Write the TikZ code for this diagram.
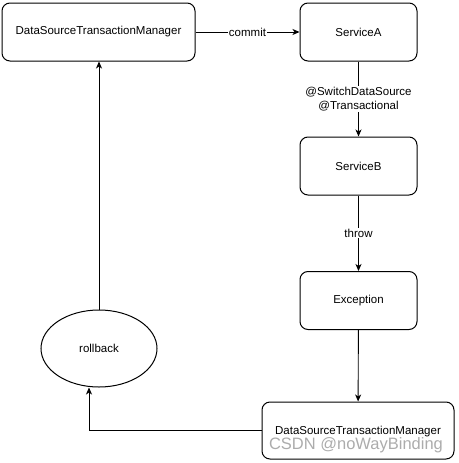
\documentclass[tikz,border=0pt]{standalone}
\usepackage{fontspec}
\setmainfont{Liberation Sans}
\usetikzlibrary{shapes.geometric,arrows.meta,calc}
\begin{document}
\begin{tikzpicture}[x=1pt,y=-1pt,
  box/.style={draw,line width=1pt,rounded corners=8pt,minimum height=58pt,inner sep=0pt,font=\fontsize{11.5}{13}\selectfont},
  arr/.style={line width=0.9pt,-{Stealth[length=7pt,width=6pt,inset=2pt]}},
  lbl/.style={fill=white,inner sep=1pt,font=\fontsize{11.5}{13.5}\selectfont,align=center}]
\useasboundingbox (0,0) rectangle (458,463);
\node[box,minimum width=193pt] (dstm1) at (98.5,32) {DataSourceTransactionManager};
\node[box,minimum width=117pt] (sa) at (358.5,32) {ServiceA};
\node[box,minimum width=117pt] (sb) at (358.5,166) {ServiceB};
\node[box,minimum width=117pt] (ex) at (358.5,300.5) {Exception};
\node[box,minimum width=192pt,minimum height=57pt] (dstm2) at (358,430.5) {};
\node[font=\fontsize{11.5}{13}\selectfont] (dstm2t) at (358,432) {DataSourceTransactionManager};
\node[draw,ellipse,line width=1pt,minimum width=116pt,minimum height=77pt,inner sep=0pt,font=\fontsize{11.5}{13}\selectfont] (rb) at (99,348.5) {rollback};
\draw[arr] (dstm1) -- node[lbl] (c) {commit} (sa);
\draw[arr] (sa) -- node[lbl] (sw) {@SwitchDataSource\\@Transactional} (sb);
\draw[arr] (sb) -- node[lbl] (th) {throw} (ex);
\draw[arr] (ex) -- (dstm2);
\draw[arr] (dstm2.west) -| ([xshift=-10pt]rb.south);
\draw[arr] (rb.north) -- (rb.north |- dstm1.south);
\node[text=gray!65,font=\fontsize{16.5}{18}\selectfont] (wm) at (356,445) {CSDN @noWayBinding};
\end{tikzpicture}
\end{document}
